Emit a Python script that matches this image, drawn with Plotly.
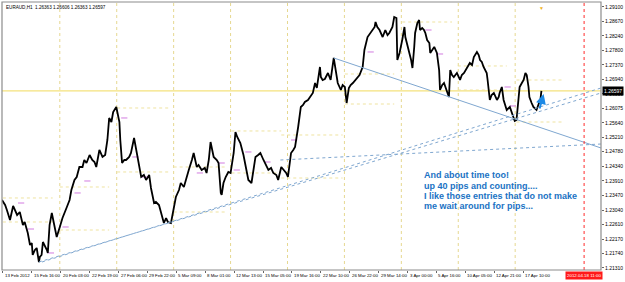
import plotly.graph_objects as go

# ---- price path (bar number since 13 Feb 2012 00:00, H1 bars) ----
bar_index = [0, 7, 11, 18, 25, 34, 40, 47, 51, 58, 63, 67, 69, 74, 78, 83, 85, 89, 92, 96,
             101, 103, 107, 112, 118, 123, 130, 136, 145, 152, 156, 163,
             168, 174, 181, 185, 190, 197, 203, 208, 212, 219, 226, 232, 237, 241, 246, 250, 257, 259, 264, 266, 270,
             275, 279, 286, 290, 297, 304, 308, 313, 319, 324, 331, 335, 342, 346, 353, 360, 364, 369, 373, 380,
             386, 391, 398, 402, 409, 416, 420, 427, 431, 438, 442, 449, 456, 460, 465, 469, 476, 483, 487, 492,
             494, 498, 503, 509, 514, 521, 525, 529, 536, 543, 547, 554, 561, 565, 570, 576, 581, 588, 594, 599,
             605, 610, 617, 621, 628, 634, 639, 643, 650, 655, 659, 666, 670, 672, 677, 681, 688,
             695, 699, 704, 708, 715, 717, 721, 726, 733, 739, 746, 751, 755, 762, 766, 771, 775, 780, 784, 789,
             795, 800, 804, 811, 815, 822, 829, 833, 838, 840, 844, 849, 856, 862, 867, 871, 878, 882, 887,
             889, 894, 900, 905, 907, 911, 916, 920, 923, 927, 929, 934, 938, 940, 945, 949, 952, 956, 961, 963,
             967, 972, 978, 983, 985, 990, 994, 1001, 1005,
             1008, 1012, 1016, 1023, 1030, 1034, 1039, 1046, 1052, 1057, 1061, 1068, 1072, 1075, 1079, 1083, 1090,
             1092, 1095, 1097, 1101, 1106, 1113, 1117, 1119, 1124, 1128, 1135, 1142, 1146, 1151, 1153, 1157, 1159,
             1162, 1164, 1169, 1173, 1177, 1180, 1184, 1186, 1191, 1195, 1202, 1206, 1208, 1211, 1213]
close_price = [1.23339, 1.23189, 1.23040, 1.22742, 1.23160, 1.22891, 1.22980, 1.22592, 1.22682, 1.22354,
               1.21996, 1.22055, 1.21697, 1.21846, 1.21906, 1.21488, 1.21637, 1.21697, 1.22085, 1.21996,
               1.21846, 1.21757, 1.22592, 1.22950, 1.22533, 1.22234, 1.22533, 1.22801, 1.23100, 1.23339, 1.23637, 1.23936,
               1.24025, 1.24324, 1.24324, 1.24533, 1.24443, 1.24682, 1.24533, 1.24473, 1.24324, 1.24832, 1.24623,
               1.24682, 1.25130, 1.25787, 1.25667, 1.25966, 1.26115, 1.25966, 1.25667, 1.25130, 1.24443,
               1.24533, 1.24533, 1.24623, 1.24742, 1.25190, 1.24623, 1.24294, 1.24025, 1.24085, 1.23936, 1.24085,
               1.23697, 1.23249, 1.23279, 1.23189, 1.22891, 1.22652, 1.22801, 1.22682, 1.22652,
               1.23040, 1.23428, 1.23637, 1.23846, 1.23727, 1.24085, 1.24234, 1.24533, 1.24742, 1.24324, 1.24384,
               1.24234, 1.24294, 1.24145, 1.24533, 1.25070, 1.24623, 1.24533, 1.24443, 1.23548,
               1.23488, 1.23846, 1.24025, 1.24175, 1.24145, 1.24742, 1.25369, 1.25219, 1.25040, 1.24682, 1.24443,
               1.23936, 1.23846, 1.24234, 1.24623, 1.24682, 1.24742, 1.24533, 1.24384, 1.24234,
               1.24294, 1.24145, 1.24085, 1.23936, 1.24324, 1.24234, 1.24145, 1.24025, 1.24742, 1.24832, 1.24921,
               1.25518, 1.25876, 1.26115, 1.26175, 1.26264, 1.26324,
               1.26473, 1.26533, 1.26831, 1.26682, 1.27309, 1.27010, 1.26921, 1.26951, 1.27130, 1.26921, 1.27578,
               1.27130, 1.26831, 1.26622, 1.26772, 1.26712, 1.26234, 1.26682, 1.26772, 1.26831,
               1.26921, 1.27010, 1.27070, 1.27309, 1.27816, 1.28204, 1.28324, 1.28413, 1.28503, 1.28652, 1.28503,
               1.28413, 1.28204, 1.28413, 1.28264, 1.28324, 1.28503, 1.28802, 1.28772,
               1.27518, 1.27727, 1.28115, 1.28503, 1.28204, 1.28025, 1.27727, 1.27518, 1.27279, 1.27906, 1.28324,
               1.28622, 1.28712, 1.28413, 1.28473, 1.28413, 1.28324, 1.28115, 1.28025, 1.27727,
               1.27816, 1.27906, 1.27727, 1.27219, 1.26622, 1.26772, 1.26831, 1.26533, 1.26413,
               1.27219, 1.27070, 1.27010, 1.27130, 1.26921, 1.27070, 1.27130, 1.27309, 1.27428, 1.27369, 1.27607,
               1.27757, 1.27667, 1.27518, 1.27458, 1.27309, 1.27130,
               1.26921, 1.26622, 1.26324, 1.26473, 1.26533, 1.26324, 1.26413, 1.26533, 1.26712, 1.26324, 1.26025,
               1.26115, 1.25966, 1.25816, 1.25697, 1.25727, 1.25966,
               1.26324, 1.26712, 1.26831, 1.26921, 1.27130, 1.27070, 1.26712, 1.26413, 1.26234, 1.26115, 1.26025,
               1.26175, 1.26234, 1.26363, 1.26597]

bid_price = 1.26597
header_text = "EURAUD,H1  1.26363 1.26606 1.26363 1.26597"

y_tick_labels = ["1.29100", "1.28670", "1.28240", "1.27800", "1.27370", "1.26940", "1.26510",
                 "1.26075", "1.25640", "1.25210", "1.24780", "1.24340", "1.23910", "1.23470",
                 "1.23040", "1.22610", "1.22170", "1.21740", "1.21310"]
time_labels = ["13 Feb 2012", "15 Feb 16:00", "20 Feb 03:00", "22 Feb 19:00", "27 Feb 06:00",
               "29 Feb 22:00", "5 Mar 09:00", "8 Mar 01:00", "12 Mar 13:00", "15 Mar 05:00",
               "19 Mar 16:00", "22 Mar 10:00", "26 Mar 22:00", "29 Mar 14:00", "3 Apr 00:00",
               "5 Apr 16:00", "10 Apr 05:00", "12 Apr 21:00", "17 Apr 10:00"]
time_label_bar = [2 + 65 * k for k in range(len(time_labels))]
grid_bar = [130, 258, 386, 514, 642, 770, 898, 1026, 1154]
cursor_bar = 1309
cursor_label = "2012.04.18 11:00"

# trend lines: (bar0, price0, bar1, price1)
solid_trend = (746, 1.27578, 1347, 1.24891)
dotted_trends = [(83, 1.21488, 1347, 1.26533), (90, 1.21488, 1347, 1.26682), (626, 1.24533, 1347, 1.25010)]

# daily high / low levels (start bar, end bar, price)
level_start = [2, 2, 130, 130, 259, 259, 386, 386, 516, 516, 628, 628, 771, 771, 900, 1025, 1025, 1157, 1157]
level_end = [114, 114, 241, 241, 375, 375, 503, 503, 628, 628, 766, 766, 882, 882, 1012, 1135, 1135, 1264, 1264]
level_price = [1.23399, 1.22682, 1.23727, 1.22443, 1.26085, 1.24175, 1.24324, 1.22980, 1.25399, 1.24145,
               1.25279, 1.23995, 1.27100, 1.26204, 1.28652, 1.27339, 1.26622, 1.26921, 1.25667]

# small pivot marks
mark_bar = [36, 58, 103, 136, 163, 185, 268, 293, 315, 438, 487, 521, 547, 590, 650, 822, 952, 978, 1130, 1142]
mark_price = [1.23249, 1.22473, 1.21757, 1.22533, 1.23548, 1.23906, 1.25787, 1.24623, 1.24025, 1.24145,
              1.24443, 1.24234, 1.24772, 1.24473, 1.25130, 1.27757, 1.28413, 1.27697, 1.26712, 1.26145]

comment_lines = ["And about time too!", "up 40 pips and counting....",
                 "I like those entries that do not make", "me wait around for pips..."]
comment_price = [1.24085, 1.23766, 1.23458, 1.23145]
comment_bar = 945

FONT = "Liberation Sans"
X_RANGE = [0, 1347]
Y_RANGE = [1.21249, 1.29249]

fig = go.Figure()

shapes = []
for g in grid_bar:
    shapes.append(dict(type="line", xref="x", yref="paper", x0=g, x1=g, y0=0, y1=1,
                       line=dict(color="#e6d890", width=1, dash="dot"), layer="below"))
for s, e, p in zip(level_start, level_end, level_price):
    shapes.append(dict(type="line", xref="x", yref="y", x0=s, x1=e, y0=p, y1=p,
                       line=dict(color="#efe3a0", width=1, dash="dot"), layer="below"))
for b, p in zip(mark_bar, mark_price):
    shapes.append(dict(type="line", xref="x", yref="y", x0=b, x1=b + 14, y0=p, y1=p,
                       line=dict(color="#d27be0", width=1, dash="dash"), layer="below"))
shapes.append(dict(type="line", xref="paper", yref="y", x0=0, x1=1, y0=bid_price, y1=bid_price,
                   line=dict(color="#f4e27c", width=1.2), layer="below"))
shapes.append(dict(type="line", xref="x", yref="y", x0=solid_trend[0], y0=solid_trend[1],
                   x1=solid_trend[2], y1=solid_trend[3], line=dict(color="#7fa7d0", width=1)))
for t in dotted_trends:
    shapes.append(dict(type="line", xref="x", yref="y", x0=t[0], y0=t[1], x1=t[2], y1=t[3],
                       line=dict(color="#7fa7d0", width=1, dash="dot")))
shapes.append(dict(type="line", xref="x", yref="paper", x0=cursor_bar, x1=cursor_bar, y0=0, y1=1,
                   line=dict(color="#ff2a2a", width=1, dash="dot")))
shapes.append(dict(type="rect", xref="paper", yref="paper", x0=0, x1=1, y0=0, y1=1,
                   line=dict(color="#8c8c8c", width=1.2)))

fig.add_trace(go.Scatter(x=bar_index, y=close_price, mode="lines",
                         line=dict(color="black", width=1.8), hoverinfo="skip", showlegend=False))

annotations = []
annotations.append(dict(xref="paper", yref="paper", x=0.003, y=0.997, xanchor="left", yanchor="top",
                        text=header_text, showarrow=False, font=dict(family=FONT, size=4.6, color="black")))
for lbl, b in zip(time_labels, time_label_bar):
    annotations.append(dict(xref="x", yref="paper", x=b, y=0, xanchor="left", yanchor="top", yshift=-1,
                            text=lbl, showarrow=False, font=dict(family=FONT, size=4.4, color="black")))
annotations.append(dict(xref="x", yref="paper", x=cursor_bar, y=0, xanchor="center", yanchor="top", yshift=-1,
                        text=cursor_label, showarrow=False, bgcolor="#ff1a1a",
                        font=dict(family=FONT, size=4.4, color="white"), borderpad=1))
annotations.append(dict(xref="paper", yref="y", x=1, y=bid_price, xanchor="left", yanchor="middle", xshift=1,
                        text=str(bid_price), showarrow=False, bgcolor="black",
                        font=dict(family=FONT, size=5, color="white"), borderpad=1))
for line_text, p in zip(comment_lines, comment_price):
    annotations.append(dict(xref="x", yref="y", x=comment_bar, y=p, xanchor="left", yanchor="middle",
                            text="<b>" + line_text + "</b>", showarrow=False,
                            font=dict(family=FONT, size=9, color="#1a72c4")))
annotations.append(dict(xref="x", yref="y", x=1218, y=1.26503, ax=1208, ay=1.26025, axref="x", ayref="y",
                        text="", showarrow=True, arrowhead=2, arrowsize=1, arrowwidth=2, arrowcolor="#1e8ae6"))
annotations.append(dict(xref="x", yref="paper", x=1213, y=1, yanchor="top", yshift=-1, text="▼",
                        showarrow=False, font=dict(size=5, color="#f0b020")))

fig.update_layout(
    width=625, height=282,
    margin=dict(l=2, r=20, t=2, b=12),
    paper_bgcolor="white", plot_bgcolor="white",
    showlegend=False,
    shapes=shapes, annotations=annotations,
    xaxis=dict(range=X_RANGE, showgrid=False, zeroline=False, showticklabels=False,
               tickvals=time_label_bar, ticks="outside", ticklen=2, tickcolor="#666", fixedrange=True),
    yaxis=dict(range=Y_RANGE, side="right", showgrid=False, zeroline=False,
               tickvals=[float(v) for v in y_tick_labels], ticktext=y_tick_labels,
               ticks="outside", ticklen=2, tickcolor="#666",
               tickfont=dict(family=FONT, size=5, color="black"), fixedrange=True),
)

fig.write_html("out.html")
